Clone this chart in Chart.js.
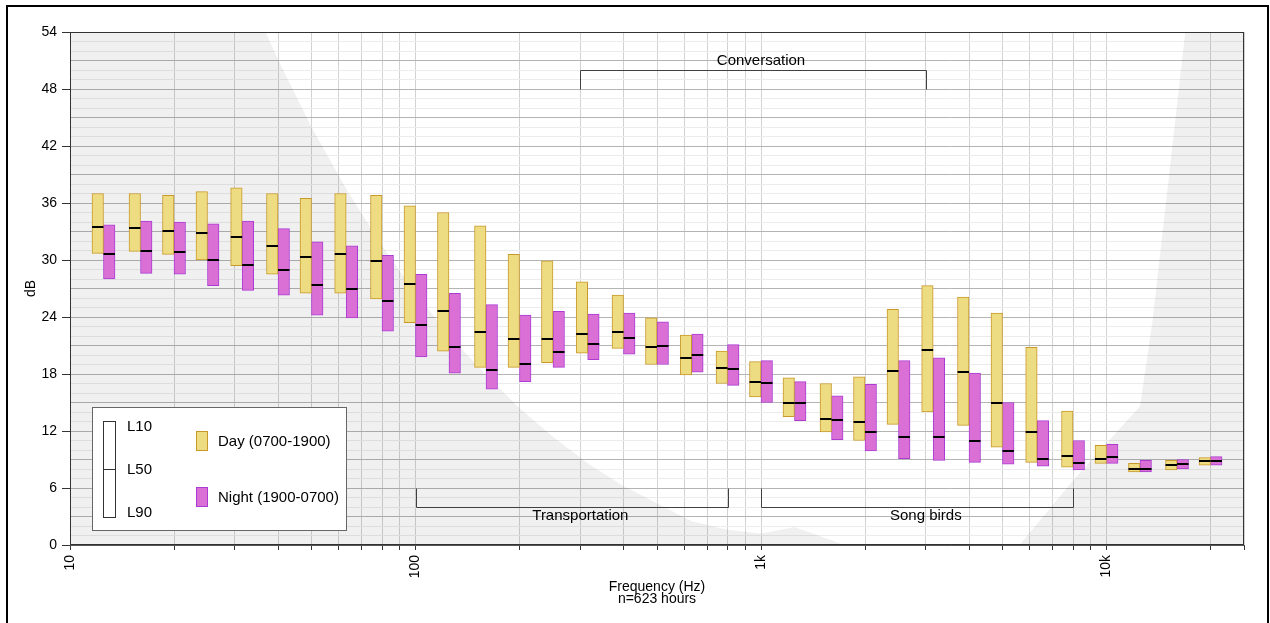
<!DOCTYPE html>
<html>
<head>
<meta charset="utf-8">
<script src="https://cdn.jsdelivr.net/npm/chart.js@4.4.1/dist/chart.umd.min.js"></script>
<style>
  html, body { margin: 0; padding: 0; background: #fff; }
  #wrap { position: relative; width: 1270px; height: 623px; overflow: hidden; }
  #frame { position: absolute; left: 6px; top: 5px; width: 1259px; height: 660px; border: 2px solid #000; pointer-events: none; }
</style>
</head>
<body>
<div id="wrap">
  <canvas id="canvas" width="1270" height="623"></canvas>
  <div id="frame"></div>
</div>
<script>
// one-third octave band centre frequencies (Hz)
const bands = [12.5, 16, 20, 25, 31.5, 40, 50, 63, 80, 100, 125, 160, 200, 250, 315, 400, 500,
  630, 800, 1000, 1250, 1600, 2000, 2500, 3150, 4000, 5000, 6300, 8000, 10000, 12500, 16000, 20000];

// day (0700-1900) percentile levels, dB
const dayL10 = [37.0, 37.0, 36.8, 37.2, 37.6, 37.0, 36.5, 37.0, 36.8, 35.7, 35.0, 33.6, 30.6, 29.9, 27.7, 26.3, 23.9,
  22.1, 20.4, 19.3, 17.6, 17.0, 17.7, 24.8, 27.3, 26.1, 24.4, 20.8, 14.1, 10.5, 8.6, 8.9, 9.2];
const dayL50 = [33.5, 33.4, 33.1, 32.8, 32.4, 31.5, 30.3, 30.6, 29.9, 27.5, 24.6, 22.4, 21.7, 21.7, 22.2, 22.4, 20.8,
  19.7, 18.6, 17.2, 15.0, 13.3, 12.9, 18.3, 20.5, 18.2, 14.9, 11.9, 9.4, 9.1, 8.0, 8.4, 8.8];
const dayL90 = [30.7, 30.9, 30.6, 30.0, 29.4, 28.5, 26.5, 26.5, 25.9, 23.4, 20.4, 18.7, 18.7, 19.2, 20.2, 20.7, 19.0,
  17.9, 17.0, 15.6, 13.5, 11.9, 11.0, 12.7, 14.0, 12.6, 10.3, 8.7, 8.2, 8.6, 7.7, 7.9, 8.4];

// night (1900-0700) percentile levels, dB
const nightL10 = [33.7, 34.1, 34.0, 33.8, 34.1, 33.3, 31.9, 31.5, 30.5, 28.5, 26.5, 25.3, 24.2, 24.6, 24.3, 24.4, 23.5,
  22.2, 21.1, 19.4, 17.2, 15.7, 16.9, 19.4, 19.7, 18.1, 15.0, 13.1, 11.0, 10.6, 8.9, 9.0, 9.3];
const nightL50 = [30.6, 31.0, 30.8, 30.0, 29.5, 28.9, 27.4, 27.0, 25.7, 23.2, 20.8, 18.4, 19.1, 20.3, 21.2, 21.8, 21.0,
  20.0, 18.5, 17.1, 14.9, 13.2, 11.9, 11.4, 11.4, 11.0, 9.9, 9.1, 8.6, 9.3, 8.0, 8.5, 8.8];
const nightL90 = [28.0, 28.6, 28.5, 27.3, 26.8, 26.3, 24.2, 23.9, 22.5, 19.8, 18.1, 16.4, 17.2, 18.7, 19.5, 20.1, 19.0,
  18.2, 16.8, 15.0, 13.1, 11.1, 9.9, 9.1, 8.9, 8.7, 8.5, 8.3, 7.9, 8.6, 7.7, 8.0, 8.4];

// threshold of hearing, shaded below
const thresholdHz = [10, 20, 25, 31.5, 40, 50, 63, 80, 100, 125, 160, 200, 250, 315, 400, 500, 630, 800,
  1000, 1250, 1600, 1800, 2500, 3150, 4000, 5000, 5600, 8000, 12500, 13600, 16900, 20000, 25000];
const thresholdDb = [100, 78.5, 68.7, 59.5, 51.1, 44.0, 37.5, 31.5, 26.5, 22.1, 17.9, 14.4, 11.4, 8.6, 6.2, 4.4, 2.5, 1.6,
  1.2, 1.9, 0.5, -0.2, -4.0, -6.0, -5.5, -2.0, 0, 6.8, 14.6, 23.7, 54, 80, 100];

// source ranges marked with brackets
const rangeNames = ['Conversation', 'Transportation', 'Song birds'];
const rangeFromHz = [300, 100, 1000];
const rangeToHz = [3000, 800, 8000];
const rangeLabelHz = [1000, 300, 3000];

const seriesNames = ['Day (0700-1900)', 'Night (1900-0700)'];
const statNames = ['L10', 'L50', 'L90'];
const xTickValues = [10, 100, 1000, 10000];
const xTickText = ['10', '100', '1k', '10k'];

const FONT = '"Liberation Sans", Arial, sans-serif';
Chart.defaults.font.family = FONT;
Chart.defaults.font.size = 14;
Chart.defaults.color = '#000';

const DAY_FILL = '#eedc82', DAY_LINE = '#c8982a';
const NIGHT_FILL = '#da70d6', NIGHT_LINE = '#aa3cd2';
const medians = [dayL50, nightL50];

// black L50 tick across each box
const medianLines = {
  id: 'medianLines',
  afterDatasetsDraw(chart) {
    const ctx = chart.ctx, y = chart.scales.y;
    ctx.save();
    ctx.strokeStyle = '#000';
    ctx.lineWidth = 2;
    medians.forEach((vals, i) => {
      chart.getDatasetMeta(i).data.forEach((bar, j) => {
        const py = Math.round(y.getPixelForValue(vals[j]));
        ctx.beginPath();
        ctx.moveTo(bar.x - bar.width / 2, py);
        ctx.lineTo(bar.x + bar.width / 2, py);
        ctx.stroke();
      });
    });
    ctx.restore();
  }
};

// brackets: conversation hangs above the data, the others sit near the floor
const bracketLevels = [
  {line: 50, tip: 48, text: 51},
  {line: 4, tip: 6, text: 3.05},
  {line: 4, tip: 6, text: 3.05}
];

const rangeBrackets = {
  id: 'rangeBrackets',
  afterDatasetsDraw(chart) {
    const {ctx, scales: {x, y}} = chart;
    ctx.save();
    ctx.strokeStyle = '#404040';
    ctx.lineWidth = 1;
    ctx.fillStyle = '#000';
    ctx.font = '15px ' + FONT;
    ctx.textAlign = 'center';
    ctx.textBaseline = 'middle';
    rangeNames.forEach((name, i) => {
      const lv = bracketLevels[i];
      const x0 = Math.round(x.getPixelForValue(rangeFromHz[i])) + 0.5;
      const x1 = Math.round(x.getPixelForValue(rangeToHz[i])) + 0.5;
      const yl = Math.round(y.getPixelForValue(lv.line)) + 0.5;
      const yt = Math.round(y.getPixelForValue(lv.tip)) + 0.5;
      ctx.beginPath();
      ctx.moveTo(x0, yt);
      ctx.lineTo(x0, yl);
      ctx.lineTo(x1, yl);
      ctx.lineTo(x1, yt);
      ctx.stroke();
      ctx.fillText(name, x.getPixelForValue(rangeLabelHz[i]), y.getPixelForValue(lv.text));
    });
    // plot frame
    const a = chart.chartArea;
    ctx.strokeStyle = '#333';
    ctx.strokeRect(Math.round(a.left) + 0.5, Math.round(a.top) + 0.5,
      Math.round(a.right - a.left) - 1, Math.round(a.bottom - a.top) - 1);
    ctx.restore();
  }
};

// key box in the lower-left corner of the plot
const keyLegend = {
  id: 'keyLegend',
  afterDraw(chart) {
    const {ctx, chartArea: a} = chart;
    const bx = Math.round(a.left) + 22, by = Math.round(a.bottom) - 138;
    ctx.save();
    ctx.fillStyle = '#fff';
    ctx.fillRect(bx, by, 254, 123);
    ctx.strokeStyle = '#666';
    ctx.lineWidth = 1;
    ctx.strokeRect(bx + 0.5, by + 0.5, 254, 123);

    ctx.strokeStyle = '#333';
    ctx.strokeRect(bx + 11.5, by + 14.5, 12, 96);
    ctx.beginPath();
    ctx.moveTo(bx + 11.5, by + 62.5);
    ctx.lineTo(bx + 23.5, by + 62.5);
    ctx.stroke();

    ctx.fillStyle = '#000';
    ctx.font = '15px ' + FONT;
    ctx.textAlign = 'left';
    ctx.textBaseline = 'middle';
    [20, 63, 106].forEach((dy, i) => ctx.fillText(statNames[i], bx + 35, by + dy));

    const swatches = [[DAY_FILL, DAY_LINE, 24], [NIGHT_FILL, NIGHT_LINE, 80]];
    swatches.forEach(([fill, line, dy], i) => {
      ctx.fillStyle = fill;
      ctx.fillRect(bx + 104, by + dy, 12, 20);
      ctx.strokeStyle = line;
      ctx.strokeRect(bx + 104.5, by + dy + 0.5, 11, 19);
      ctx.fillStyle = '#000';
      ctx.fillText(seriesNames[i], bx + 126, by + dy + 10.5);
    });
    ctx.restore();
  }
};

const boxStyle = {borderWidth: 1, borderSkipped: false, barThickness: 11.5, order: 0};

new Chart(document.getElementById('canvas'), {
  type: 'bar',
  data: {
    datasets: [
      Object.assign({
        label: seriesNames[0],
        data: bands.map((f, i) => ({x: f, y: [dayL90[i], dayL10[i]]})),
        backgroundColor: DAY_FILL,
        borderColor: DAY_LINE
      }, boxStyle),
      Object.assign({
        label: seriesNames[1],
        data: bands.map((f, i) => ({x: f, y: [nightL90[i], nightL10[i]]})),
        backgroundColor: NIGHT_FILL,
        borderColor: NIGHT_LINE
      }, boxStyle),
      {
        type: 'line',
        label: 'threshold',
        data: thresholdHz.map((f, i) => ({x: f, y: thresholdDb[i]})),
        fill: 'start',
        backgroundColor: 'rgba(0,0,0,0.058)',
        borderWidth: 0,
        pointRadius: 0,
        tension: 0,
        order: 1
      }
    ]
  },
  options: {
    responsive: false,
    animation: false,
    layout: {padding: {left: 0, top: 32, right: 26, bottom: 0}},
    plugins: {legend: {display: false}, tooltip: {enabled: false}},
    scales: {
      x: {
        type: 'logarithmic',
        min: 10,
        max: 25000,
        offset: false,
        afterBuildTicks(scale) {
          const ticks = [];
          for (let d = 10; d < 25000; d *= 10) {
            for (let m = 1; m <= 9; m++) {
              if (d * m <= 25000) ticks.push({value: d * m});
            }
          }
          ticks.push({value: 25000});
          scale.ticks = ticks;
        },
        afterFit(scale) { scale.height = 78; },
        ticks: {
          autoSkip: false,
          minRotation: 90,
          maxRotation: 90,
          padding: 5,
          font: {size: 14},
          callback(v) {
            const k = xTickValues.indexOf(v);
            return k >= 0 ? xTickText[k] : '';
          }
        },
        grid: {offset: false, color: '#d2d2d2', tickColor: '#333', tickLength: 5},
        border: {color: '#555'},
        title: {
          display: true,
          text: ['Frequency (Hz)', 'n=623 hours'],
          font: {size: 14, lineHeight: 0.86},
          padding: {top: 0, bottom: 18}
        }
      },
      y: {
        min: 0,
        max: 54,
        afterFit(scale) { scale.width = 70; },
        ticks: {
          stepSize: 1,
          autoSkip: false,
          padding: 5,
          font: {size: 14},
          callback: (v) => (v % 6 === 0 ? String(v) : '')
        },
        grid: {
          color: (c) => (c.tick && c.tick.value % 3 === 0 ? '#b4b4b4' : '#ebebeb'),
          tickColor: (c) => (c.tick && c.tick.value % 6 === 0 ? '#333' : 'rgba(0,0,0,0)'),
          tickLength: 8
        },
        border: {color: '#555'},
        title: {display: true, text: 'dB', font: {size: 14}, padding: {top: 23, bottom: 0}}
      }
    }
  },
  plugins: [medianLines, rangeBrackets, keyLegend]
});
</script>
</body>
</html>
